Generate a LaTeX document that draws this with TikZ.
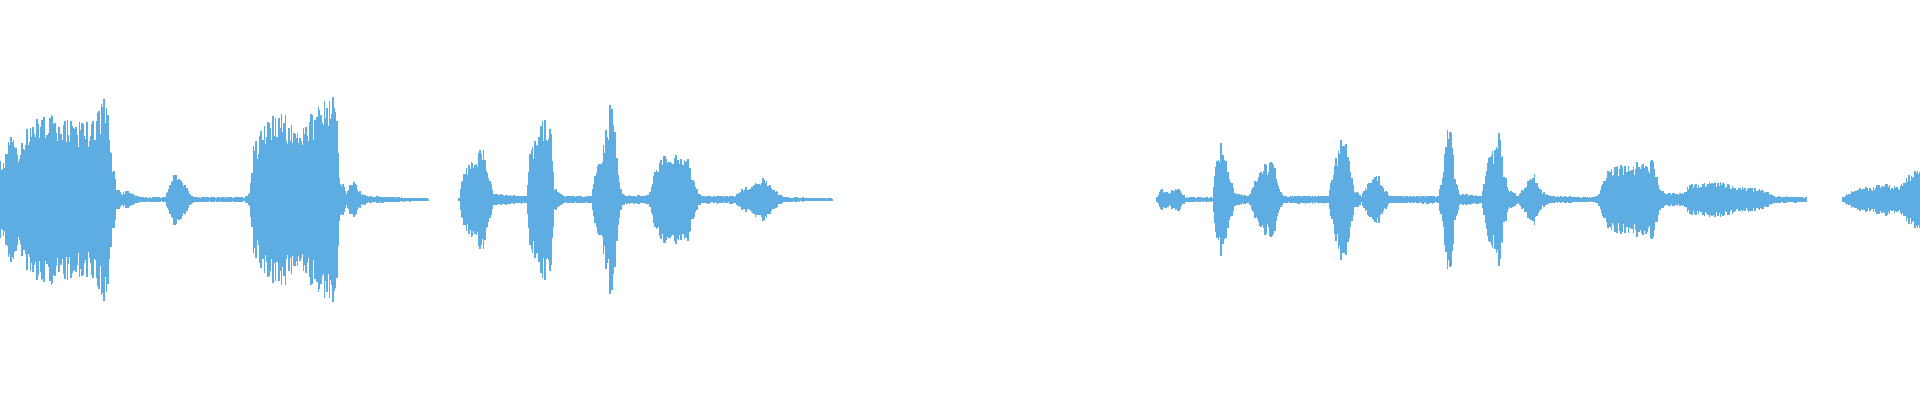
\documentclass[tikz,border=0pt]{standalone}
\definecolor{wave}{HTML}{5DACE2}
\begin{document}
\begin{tikzpicture}[x=0.012245cm,y=-0.012245cm]
\useasboundingbox (0,0) rectangle (1568,327);
\pgfmathsetseed{7}
\def\pxa{0}\def\pam{28}
\foreach \xa/\am in {0/30,5/35,10/55,15/40,20/55,30/60,40/65,50/60,60/60,70/58,75/62,80/70,85/75,87/97,89/60,92/30,95/10,100/5,105/8,110/4,115/2,135/2,138/12,142/20,150/15,155/5,160/2,200/2,204/5,207/40,212/50,220/60,230/68,240/55,250/60,260/70,265/75,270/80,274/87,277/20,283/5,288/15,295/5,300/3,320/2,350/1,351/0,374/0,375/2,378/20,385/30,395/40,400/20,403/5,430/3,433/40,440/50,445/65,450/50,453/10,460/3,483/3,488/30,493/45,500/82,503/40,508/5,515/3,530/4,535/25,540/35,560/38,565/20,570/5,575/3,600/3,605/8,615/12,625/18,630/10,640/2,680/1,681/0,944/0,945/2,948/8,955/6,962/10,968/2,990/2,993/30,997/45,1003/25,1008/5,1020/3,1025/15,1030/25,1040/30,1043/15,1048/3,1085/3,1090/30,1097/52,1102/30,1106/8,1112/3,1115/10,1125/20,1130/10,1135/3,1150/3,1175/3,1180/35,1184/75,1188/20,1192/5,1210/3,1215/30,1220/40,1225/57,1228/25,1232/8,1240/3,1248/15,1253/20,1258/8,1265/3,1300/2,1305/3,1310/20,1320/25,1340/28,1350/30,1355/10,1360/5,1375/5,1380/12,1400/14,1420/10,1440/8,1448/3,1475/2,1476/0,1504/0,1505/2,1515/8,1530/10,1540/12,1550/10,1560/20,1568/28}{
  \pgfmathtruncatemacro\nn{max(1,int((\xa-\pxa)/1.0))}
  \foreach \k in {1,...,\nn}{
    \pgfmathsetmacro\ff{\k/\nn}
    \pgfmathsetmacro\xx{\pxa+(\xa-\pxa)*\ff}
    \pgfmathsetmacro\aa{(\pam+(\am-\pam)*\ff)*(0.72+0.38*rnd)}
    \draw[wave,line width=0.016cm] (\xx,163-\aa) -- (\xx,163+\aa);
  }
  \global\let\pxa\xa \global\let\pam\am
}
\end{tikzpicture}
\end{document}
